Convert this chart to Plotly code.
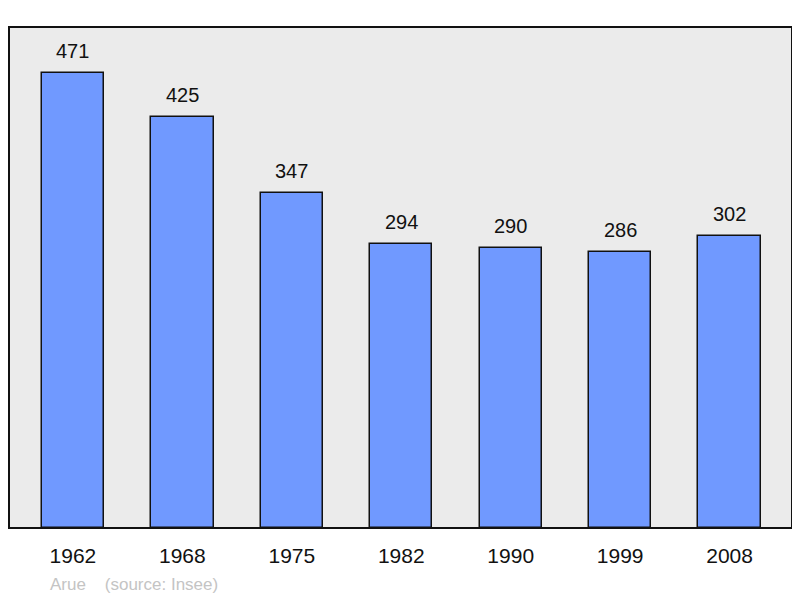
import plotly.graph_objects as go

years = ["1962", "1968", "1975", "1982", "1990", "1999", "2008"]
population = [471, 425, 347, 294, 290, 286, 302]
footer_text = "Arue    (source: Insee)"

x_idx = list(range(len(years)))
FONT = "Liberation Sans, Arial, sans-serif"

fig = go.Figure()
fig.add_trace(go.Bar(
    x=x_idx, y=population, width=0.57,
    marker=dict(color="#7099FF", line=dict(color="#111111", width=1.5)),
    hoverinfo="skip",
))

for xi, v in zip(x_idx, population):
    fig.add_annotation(x=xi, y=v, text=str(v), showarrow=False, yanchor="bottom",
                       yshift=9, font=dict(size=20, color="#111111", family=FONT))

fig.add_annotation(xref="paper", yref="paper", x=0.05, y=-0.112, xanchor="left", yanchor="middle",
                   text=footer_text, showarrow=False,
                   font=dict(size=17, color="#C4C4C4", family=FONT))

fig.add_shape(type="rect", xref="paper", yref="paper", x0=0, x1=1, y0=0, y1=1,
              line=dict(color="#111111", width=2), layer="above")

fig.update_layout(
    width=792, height=590,
    margin=dict(l=1, r=8, t=19, b=70),
    paper_bgcolor="white", plot_bgcolor="#EBEBEB",
    showlegend=False,
    bargap=0,
    font=dict(family=FONT, size=21, color="#111111"),
    xaxis=dict(range=[-0.584, 6.57], tickmode="array", tickvals=x_idx, ticktext=years,
               showgrid=False, zeroline=False, ticks="outside", ticklen=9,
               tickcolor="rgba(0,0,0,0)", fixedrange=True),
    yaxis=dict(range=[0, 518.6], showgrid=False, zeroline=False, showticklabels=False,
               fixedrange=True),
)

fig.write_html("out.html")
